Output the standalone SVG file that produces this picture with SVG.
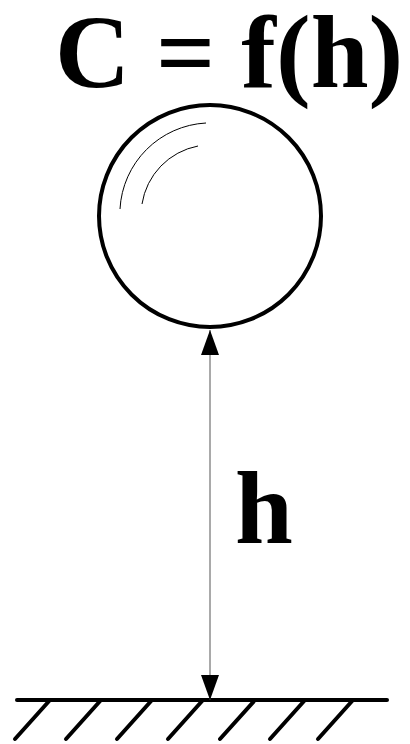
<svg xmlns="http://www.w3.org/2000/svg" width="410" height="744" viewBox="0 0 410 744">
<style>
.t{font-family:"Liberation Serif","Times New Roman",serif;font-weight:bold;fill:#000}
.g{stroke:#000;stroke-width:4;stroke-linecap:round;fill:none}
</style>
<defs>
<marker id="ah" viewBox="0 0 25 18" refX="25" refY="9" markerWidth="25" markerHeight="18" markerUnits="userSpaceOnUse" orient="auto">
<path d="M0,0 L25,9 L0,18 Z" fill="#000"/>
</marker>
</defs>
<rect width="410" height="744" fill="#fff"/>
<g id="title"><text class="t" x="55" y="87" font-size="104">C = f(h)</text></g>
<g id="ball">
<circle cx="210" cy="216" r="111" fill="none" stroke="#000" stroke-width="4"/>
<path d="M120,209 A91,91 0 0 1 206,123" fill="none" stroke="#000" stroke-width="1"/>
<path d="M142,204 A70,70 0 0 1 198,146" fill="none" stroke="#000" stroke-width="1"/>
</g>
<g id="ground">
<line class="g" x1="17" y1="700" x2="387" y2="700"/>
<line class="g" x1="50" y1="700" x2="15" y2="739"/>
<line class="g" x1="101" y1="700" x2="66" y2="739"/>
<line class="g" x1="152" y1="700" x2="117" y2="739"/>
<line class="g" x1="203" y1="700" x2="168" y2="739"/>
<line class="g" x1="255" y1="700" x2="220" y2="739"/>
<line class="g" x1="305" y1="700" x2="270" y2="739"/>
<line class="g" x1="353" y1="700" x2="318" y2="739"/>
</g>
<g id="connectors">
<line x1="210" y1="515" x2="210" y2="330" stroke="#555" stroke-width="1" marker-end="url(#ah)"/>
<line x1="210" y1="515" x2="210" y2="700" stroke="#555" stroke-width="1" marker-end="url(#ah)"/>
</g>
<g id="label"><text class="t" x="235" y="543" font-size="104">h</text></g>
</svg>
